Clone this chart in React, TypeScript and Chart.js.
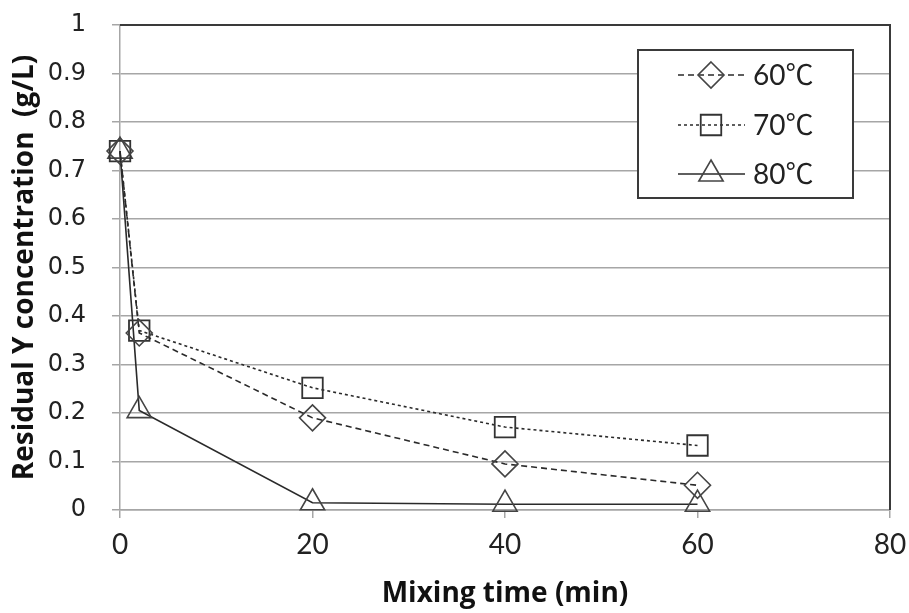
import React, { useEffect, useRef } from "react";
import { Chart, registerables } from "chart.js";

Chart.register(...registerables);

const timesMin = [0, 2, 20, 40, 60];
const series60 = [0.74, 0.365, 0.19, 0.095, 0.051];
const series70 = [0.74, 0.37, 0.252, 0.171, 0.133];
const series80 = [0.74, 0.205, 0.015, 0.012, 0.012];
const seriesLabels = ["60℃", "70℃", "80℃"];
const xTicks = [0, 20, 40, 60, 80];
const yTickLabels = ["0", "0.1", "0.2", "0.3", "0.4", "0.5", "0.6", "0.7", "0.8", "0.9", "1"];

const INK = "#2a2a2a";
const GRID = "#a6a6a6";

const plotFramePlugin = {
  id: "plotFrame",
  afterDatasetsDraw(chart: any) {
    const { ctx, chartArea } = chart;
    ctx.save();
    ctx.strokeStyle = "#3a3a3a";
    ctx.lineWidth = 2;
    ctx.beginPath();
    ctx.moveTo(chartArea.left, chartArea.top);
    ctx.lineTo(chartArea.right, chartArea.top);
    ctx.lineTo(chartArea.right, chartArea.bottom);
    ctx.stroke();
    ctx.restore();
  },
};

function drawMarker(ctx: CanvasRenderingContext2D, style: string, r: number, x: number, y: number) {
  ctx.beginPath();
  if (style === "rectRot") {
    ctx.moveTo(x, y - r);
    ctx.lineTo(x + r, y);
    ctx.lineTo(x, y + r);
    ctx.lineTo(x - r, y);
    ctx.closePath();
  } else if (style === "rect") {
    const s = r * Math.SQRT1_2;
    ctx.rect(x - s, y - s, 2 * s, 2 * s);
  } else {
    ctx.moveTo(x, y - r);
    ctx.lineTo(x + r * Math.sin(Math.PI / 3), y + r * 0.5);
    ctx.lineTo(x - r * Math.sin(Math.PI / 3), y + r * 0.5);
    ctx.closePath();
  }
  ctx.stroke();
}

const boxLegendPlugin = {
  id: "boxLegend",
  afterDraw(chart: any) {
    const { ctx } = chart;
    const bx = 638, by = 50, bw = 215, bh = 148;
    ctx.save();
    ctx.fillStyle = "#ffffff";
    ctx.fillRect(bx, by, bw, bh);
    ctx.strokeStyle = "#3a3a3a";
    ctx.lineWidth = 2;
    ctx.strokeRect(bx, by, bw, bh);
    const rows = [75, 125, 174];
    chart.data.datasets.forEach((ds: any, i: number) => {
      const y = rows[i];
      ctx.save();
      ctx.strokeStyle = ds.borderColor;
      ctx.lineWidth = ds.borderWidth;
      ctx.setLineDash(ds.borderDash || []);
      ctx.beginPath();
      ctx.moveTo(678, y);
      ctx.lineTo(745, y);
      ctx.stroke();
      ctx.restore();
      ctx.save();
      ctx.strokeStyle = ds.pointBorderColor;
      ctx.lineWidth = ds.pointBorderWidth;
      drawMarker(ctx, ds.pointStyle, ds.pointRadius, 711, y);
      ctx.restore();
      ctx.fillStyle = "#222";
      ctx.font = "28px Lato, 'Noto Sans CJK JP', sans-serif";
      ctx.textBaseline = "middle";
      ctx.textAlign = "left";
      ctx.fillText(ds.label, 753, y + 1);
    });
    ctx.restore();
  },
};

export default function App() {
  const canvasRef = useRef<HTMLCanvasElement | null>(null);

  useEffect(() => {
    if (!canvasRef.current) return;
    const mk = (vals: number[]) => timesMin.map((t, i) => ({ x: t, y: vals[i] }));
    const common = {
      borderColor: INK,
      borderWidth: 1.6,
      pointBackgroundColor: "rgba(0,0,0,0)",
      tension: 0,
      clip: false,
    };
    const chart = new Chart(canvasRef.current, {
      type: "line",
      data: {
        datasets: [
          {
            ...common,
            label: seriesLabels[0],
            data: mk(series60),
            borderDash: [6, 4],
            pointStyle: "rectRot",
            pointRadius: 13,
            pointBorderWidth: 1.6,
            pointBorderColor: "#444",
          },
          {
            ...common,
            label: seriesLabels[1],
            data: mk(series70),
            borderDash: [3, 3],
            pointStyle: "rect",
            pointRadius: 14.5,
            pointBorderWidth: 1.8,
            pointBorderColor: "#333",
          },
          {
            ...common,
            label: seriesLabels[2],
            data: mk(series80),
            pointStyle: "triangle",
            pointRadius: 14,
            pointBorderWidth: 1.6,
            pointBorderColor: "#444",
          },
        ],
      },
      options: {
        responsive: false,
        animation: false,
        devicePixelRatio: 1,
        layout: { padding: { left: 0, top: 25, right: 19, bottom: 0 } },
        plugins: {
          legend: { display: false },
          tooltip: { enabled: false },
        },
        scales: {
          x: {
            type: "linear",
            min: 0,
            max: 80,
            afterBuildTicks: (scale: any) => {
              scale.ticks = xTicks.map((v) => ({ value: v }));
            },
            afterFit: (scale: any) => {
              scale.height = 103;
              scale.paddingLeft = 0;
              scale.paddingRight = 0;
            },
            ticks: {
              color: "#222",
              font: { family: "Lato, sans-serif", size: 28 },
              padding: 10,
              maxRotation: 0,
            },
            grid: {
              drawOnChartArea: false,
              drawTicks: true,
              tickLength: 8,
              color: GRID,
              lineWidth: 1.5,
            },
            border: { color: GRID, width: 1.5 },
            title: {
              display: true,
              text: "Mixing time (min)",
              color: "#111",
              font: { family: "'Open Sans', sans-serif", size: 28, weight: "bold" },
              padding: { top: 0, bottom: 2 },
            },
          },
          y: {
            min: 0,
            max: 1,
            afterBuildTicks: (scale: any) => {
              scale.ticks = yTickLabels.map((s) => ({ value: parseFloat(s) }));
            },
            afterFit: (scale: any) => {
              scale.width = 120;
              scale.paddingTop = 0;
              scale.paddingBottom = 0;
            },
            ticks: {
              color: "#222",
              font: { family: "'DejaVu Sans', sans-serif", size: 24 },
              padding: 26,
              callback: (v: any) => {
                const idx = yTickLabels.findIndex((s) => Math.abs(parseFloat(s) - v) < 1e-9);
                return idx >= 0 ? yTickLabels[idx] : "";
              },
            },
            grid: {
              color: GRID,
              lineWidth: 1.5,
              tickLength: 8,
            },
            border: { color: GRID, width: 1.5 },
            title: {
              display: true,
              text: "Residual Y concentration  (g/L)",
              color: "#111",
              font: { family: "'Open Sans', sans-serif", size: 28, weight: "bold" },
              padding: { top: 8, bottom: 0 },
            },
          },
        },
      },
      plugins: [plotFramePlugin, boxLegendPlugin],
    } as any);
    return () => chart.destroy();
  }, []);

  return (
    <div style={{ position: "fixed", left: 0, top: 0, width: 909, height: 613, background: "#fff" }}>
      <canvas ref={canvasRef} width={909} height={613} style={{ width: 909, height: 613 }} />
    </div>
  );
}
